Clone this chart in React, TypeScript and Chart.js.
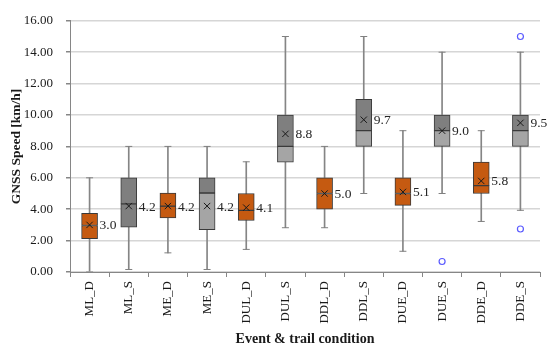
import React, { useEffect, useRef } from "react";
import { Chart, registerables } from "chart.js";

Chart.register(...registerables);

const categories = ["ML_D", "ML_S", "ME_D", "ME_S", "DUL_D", "DUL_S", "DDL_D", "DDL_S", "DUE_D", "DUE_S", "DDE_D", "DDE_S"];
const whiskerMin = [0.0, 0.16, 1.22, 0.16, 1.44, 2.82, 2.82, 5.0, 1.32, 5.0, 3.22, 3.93];
const q1 = [2.13, 2.86, 3.45, 2.7, 3.28, 7.0, 4.0, 8.0, 4.24, 8.0, 5.0, 8.0];
const median = [2.96, 4.34, 4.2, 5.03, 3.93, 8.0, 5.0, 9.0, 5.0, 9.0, 5.5, 9.0];
const q3 = [3.73, 6.0, 5.03, 6.0, 5.0, 10.0, 6.0, 11.0, 6.0, 10.0, 7.0, 10.0];
const whiskerMax = [6.0, 8.0, 8.0, 8.0, 7.02, 15.0, 8.0, 15.0, 9.0, 14.0, 9.0, 14.0];
const means = [3.0, 4.2, 4.2, 4.2, 4.1, 8.8, 5.0, 9.7, 5.1, 9.0, 5.8, 9.5];
const outlierCats = ["DUE_S", "DDE_S", "DDE_S"];
const outlierValues = [0.67, 15.0, 2.74];
const yTicks = [0, 2, 4, 6, 8, 10, 12, 14, 16];

const ORANGE = "#C55A11";
const DARK_GREY = "#7F7F7F";
const LIGHT_GREY = "#A5A5A5";

const isDry = (c: string) => c.endsWith("_D");
const upperColors = categories.map((c) => (isDry(c) ? ORANGE : DARK_GREY));
const lowerColors = categories.map((c, i) => (isDry(c) ? ORANGE : i === 1 ? DARK_GREY : LIGHT_GREY));

const FONT = "'Liberation Serif', 'Times New Roman', serif";

const meanLabelPlugin = {
  id: "meanLabels",
  afterDatasetsDraw(chart: any) {
    const idx = chart.data.datasets.findIndex((d: any) => d.label === "mean");
    if (idx < 0) return;
    const meta = chart.getDatasetMeta(idx);
    const ctx = chart.ctx;
    ctx.save();
    ctx.font = `13.5px ${FONT}`;
    ctx.fillStyle = "#262626";
    ctx.textAlign = "left";
    ctx.textBaseline = "middle";
    meta.data.forEach((pt: any, i: number) => {
      ctx.fillText(means[i].toFixed(1), pt.x + 10, pt.y + 1);
    });
    ctx.restore();
  },
};

export default function App() {
  const ref = useRef<HTMLCanvasElement | null>(null);

  useEffect(() => {
    if (!ref.current) return;
    const capData: any[] = [];
    categories.forEach((c, i) => {
      capData.push({ x: c, y: whiskerMin[i] });
      capData.push({ x: c, y: whiskerMax[i] });
    });
    const chart = new Chart(ref.current, {
      type: "bar",
      data: {
        labels: categories,
        datasets: [
          {
            label: "whisker",
            data: categories.map((_, i) => [whiskerMin[i], whiskerMax[i]]),
            backgroundColor: "#858585",
            barThickness: 1,
            grouped: false,
            order: 5,
          } as any,
          {
            label: "lower",
            data: categories.map((_, i) => [q1[i], median[i]]),
            backgroundColor: lowerColors,
            borderColor: "#3A3A3A",
            borderWidth: 1,
            borderSkipped: false,
            barThickness: 16,
            grouped: false,
            order: 4,
          } as any,
          {
            label: "upper",
            data: categories.map((_, i) => [median[i], q3[i]]),
            backgroundColor: upperColors,
            borderColor: "#3A3A3A",
            borderWidth: 1,
            borderSkipped: false,
            barThickness: 16,
            grouped: false,
            order: 3,
          } as any,
          {
            type: "line",
            label: "caps",
            data: capData,
            showLine: false,
            pointStyle: "line",
            pointRadius: 3.5,
            borderColor: "#808080",
            borderWidth: 1,
            order: 2,
          } as any,
          {
            type: "line",
            label: "mean",
            data: means,
            showLine: false,
            pointStyle: "crossRot",
            pointRadius: 4.5,
            borderColor: "#1A1A1A",
            borderWidth: 1,
            order: 1,
          } as any,
          {
            type: "line",
            label: "outliers",
            data: outlierCats.map((c, i) => ({ x: c, y: outlierValues[i] })),
            showLine: false,
            pointStyle: "circle",
            pointRadius: 3,
            borderColor: "#5B5BFF",
            backgroundColor: "rgba(0,0,0,0)",
            borderWidth: 1.2,
            order: 0,
          } as any,
        ],
      },
      options: {
        responsive: false,
        animation: false,
        events: [],
        layout: { padding: { left: 0, top: 9, right: 10, bottom: 0 } },
        plugins: {
          legend: { display: false },
          tooltip: { enabled: false },
        },
        scales: {
          x: {
            offset: true,
            grid: {
              display: true,
              drawOnChartArea: false,
              drawTicks: true,
              tickLength: 5,
              tickColor: "#868686",
              offset: true,
            },
            border: { display: true, color: "#868686", width: 1 },
            ticks: {
              minRotation: 90,
              maxRotation: 90,
              padding: 4,
              color: "#1A1A1A",
              font: { family: FONT, size: 13 },
            },
            title: {
              display: true,
              text: "Event & trail condition",
              color: "#1A1A1A",
              font: { family: FONT, size: 14, weight: "bold" },
              padding: { top: 0, bottom: 2 },
            },
            afterFit(scale: any) {
              scale.height = 78;
            },
          } as any,
          y: {
            min: 0,
            max: 16,
            afterBuildTicks(scale: any) {
              scale.ticks = yTicks.map((v) => ({ value: v }));
            },
            grid: {
              color: "#D6D6D6",
              lineWidth: 1.5,
              drawTicks: true,
              tickLength: 4,
              tickColor: "#868686",
            },
            border: { display: true, color: "#868686", width: 1 },
            ticks: {
              padding: 13,
              color: "#1A1A1A",
              font: { family: FONT, size: 13 },
              callback: (v: any) => Number(v).toFixed(2),
            },
            title: {
              display: true,
              text: "GNSS Speed [km/h]",
              color: "#1A1A1A",
              font: { family: FONT, size: 13.5, weight: "bold" },
              padding: { top: 8, bottom: 0 },
            },
            afterFit(scale: any) {
              scale.width = 70;
            },
          } as any,
        },
      },
      plugins: [meanLabelPlugin],
    });
    return () => chart.destroy();
  }, []);

  return (
    <div style={{ position: "fixed", left: 0, top: 0, width: 550, height: 350, background: "#fff" }}>
      <canvas ref={ref} width={550} height={350} style={{ width: 550, height: 350 }} />
    </div>
  );
}
